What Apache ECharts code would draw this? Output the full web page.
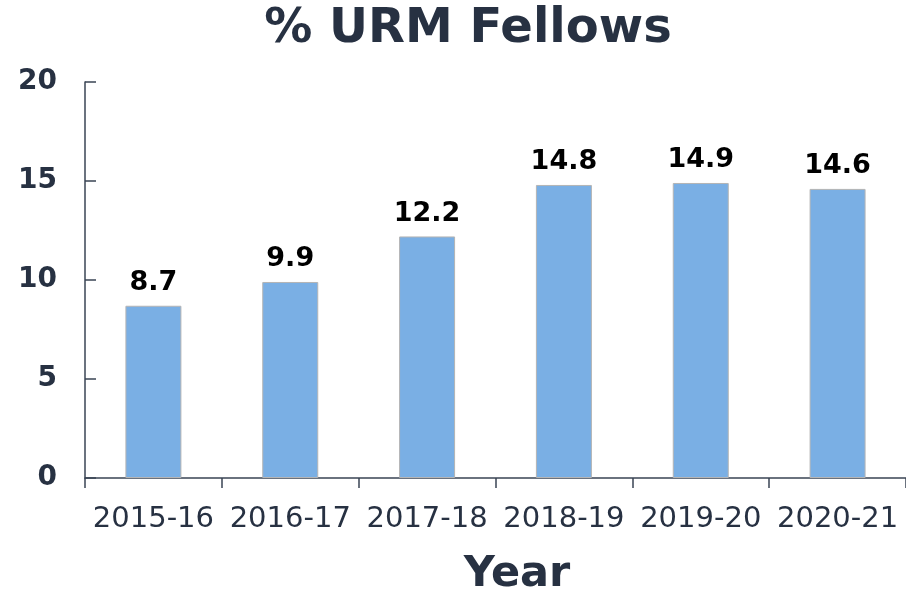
<!DOCTYPE html>
<html>
<head>
<meta charset="utf-8">
<script src="https://cdn.jsdelivr.net/npm/echarts@6/dist/echarts.min.js"></script>
<style>html,body{margin:0;padding:0;background:#fff}#c{width:906px;height:591px}</style>
</head>
<body>
<div id="c"></div>
<script>
const categories = ['2015-16','2016-17','2017-18','2018-19','2019-20','2020-21'];
const values = [8.7, 9.9, 12.2, 14.8, 14.9, 14.6];
const yTicks = [0, 5, 10, 15, 20];
const titleText = '% URM Fellows';
const xName = 'Year';

const dark = '#273142';
const chart = echarts.init(document.getElementById('c'));
chart.setOption({
  animation: false,
  title: [
    { text: titleText, left: 463, textAlign: 'center', top: 1,
      textStyle: { fontFamily: 'DejaVu Sans', fontWeight: 'bold', fontSize: 48, color: dark } },
    { text: xName, left: 512, textAlign: 'center', top: 548,
      textStyle: { fontFamily: 'DejaVu Sans', fontWeight: 'bold', fontSize: 43, color: dark } }
  ],
  grid: { left: 85, right: -4, top: 82, bottom: 113, containLabel: false },
  xAxis: {
    type: 'category', data: categories,
    axisLine: { lineStyle: { color: '#3a4454', width: 1.5 } },
    axisTick: { show: true, alignWithLabel: false, length: 10, lineStyle: { color: '#3a4454', width: 1.5 } },
    axisLabel: { fontFamily: 'DejaVu Sans', fontSize: 29, color: dark, margin: 27, interval: 0 }
  },
  yAxis: {
    type: 'value', min: yTicks[0], max: yTicks[yTicks.length - 1], interval: yTicks[1] - yTicks[0],
    axisLine: { show: true, lineStyle: { color: '#3a4454', width: 1.5 } },
    axisTick: { show: true, inside: true, length: 11, lineStyle: { color: '#3a4454', width: 1.5 } },
    splitLine: { show: false },
    axisLabel: { fontFamily: 'DejaVu Sans', fontWeight: 'bold', fontSize: 28, color: dark, margin: 28 }
  },
  series: [{
    type: 'bar', data: values, barWidth: 56,
    itemStyle: { color: '#7aafe4', borderColor: '#b5b5b5', borderWidth: 1 },
    label: { show: true, position: 'top', distance: 9,
      fontFamily: 'DejaVu Sans', fontWeight: 'bold', fontSize: 27, color: '#000' }
  }]
});
</script>
</body>
</html>
